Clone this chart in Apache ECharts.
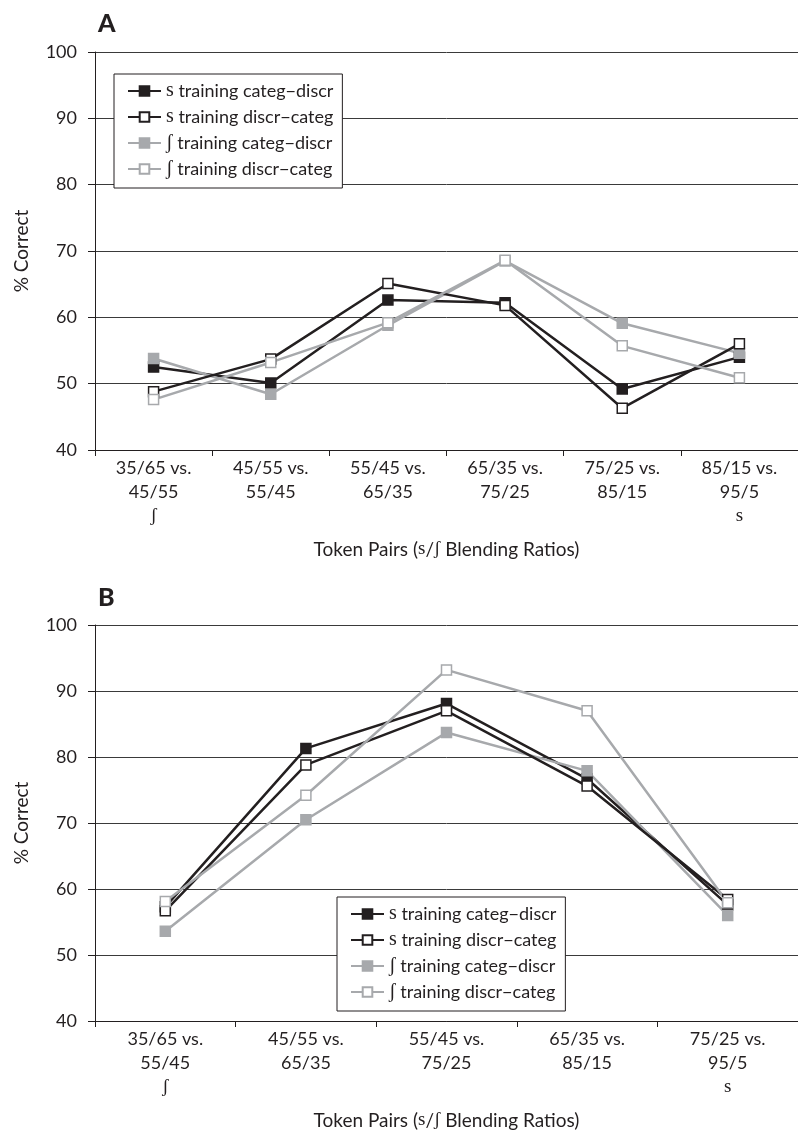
<!DOCTYPE html>
<html>
<head>
<meta charset="utf-8">
<script src="https://cdn.jsdelivr.net/npm/echarts@6/dist/echarts.min.js"></script>
<style>html,body{margin:0;padding:0;background:#fff}#c{width:798px;height:1139px}</style>
</head>
<body>
<div id="c"></div>
<script>
// ---- data ----
var seriesNames = ['s training categ\u2212discr', 's training discr\u2212categ', '\u0283 training categ\u2212discr', '\u0283 training discr\u2212categ'];
var categoriesA = ['35/65 vs.\n45/55', '45/55 vs.\n55/45', '55/45 vs.\n65/35', '65/35 vs.\n75/25', '75/25 vs.\n85/15', '85/15 vs.\n95/5'];
var endMarksA = ['\u0283', '', '', '', '', 's'];
var categoriesB = ['35/65 vs.\n55/45', '45/55 vs.\n65/35', '55/45 vs.\n75/25', '65/35 vs.\n85/15', '75/25 vs.\n95/5'];
var endMarksB = ['\u0283', '', '', '', 's'];
var aSCatDis = [52.5, 50.1, 62.6, 62.2, 49.2, 54.0];
var aSDisCat = [48.8, 53.7, 65.1, 61.8, 46.3, 56.0];
var aEshCatDis = [53.8, 48.4, 58.8, 68.5, 59.1, 54.6];
var aEshDisCat = [47.6, 53.2, 59.2, 68.6, 55.7, 50.9];
var bSCatDis = [57.3, 81.3, 88.1, 76.7, 57.6];
var bSDisCat = [56.7, 78.8, 87.0, 75.6, 58.4];
var bEshCatDis = [53.6, 70.5, 83.7, 77.9, 56.0];
var bEshDisCat = [58.1, 74.2, 93.2, 87.0, 57.9];
var yTicks = {min: 40, max: 100, interval: 10};

// ---- styles ----
var BLACK = '#231f20', GRAY = '#a7a9ac';
var SANS = 'Lato', SERIF = 'Liberation Serif';
var chart = echarts.init(document.getElementById('c'), null, {renderer: 'canvas'});

function catFormatter(marks) {
  return function (val, idx) {
    var s = val.split('\n').map(function (l) { return '{a|' + l + '}'; }).join('\n');
    if (marks[idx]) s += '\n{b|' + marks[idx] + '}';
    return s;
  };
}
var catRich = {
  a: {fontFamily: SANS, fontSize: 18, color: BLACK, lineHeight: 24},
  b: {fontFamily: SERIF, fontSize: 19, color: BLACK, lineHeight: 24}
};
function xAxis(gi, cats, marks) {
  return {
    type: 'category', gridIndex: gi, data: cats, boundaryGap: true,
    axisLine: {lineStyle: {color: BLACK, width: 1}},
    axisTick: {show: true, length: 6, lineStyle: {color: BLACK}},
    axisLabel: {formatter: catFormatter(marks), rich: catRich, margin: 6, interval: 0},
    name: '{a|Token Pairs (}{b|s}{a|/}{b|\u0283}{a| Blending Ratios)}',
    nameLocation: 'middle', nameGap: 90,
    nameTextStyle: {rich: {a: {fontFamily: SANS, fontSize: 19, color: BLACK}, b: {fontFamily: SERIF, fontSize: 19, color: BLACK}}},
    splitLine: {show: false}
  };
}
function yAxis(gi) {
  return {
    type: 'value', gridIndex: gi, min: yTicks.min, max: yTicks.max, interval: yTicks.interval,
    axisLine: {show: true, lineStyle: {color: BLACK, width: 1}},
    axisTick: {show: true, length: 7, lineStyle: {color: BLACK}},
    axisLabel: {fontFamily: SANS, fontSize: 18, color: BLACK, margin: 18},
    splitLine: {show: true, lineStyle: {color: '#3a3a3a', width: 1}},
    name: '% Correct', nameLocation: 'middle', nameRotate: 90, nameGap: 64,
    nameTextStyle: {fontFamily: SANS, fontSize: 19, color: BLACK}
  };
}
function mk(name, data, gi, color, filled) {
  return {
    name: name, type: 'line', xAxisIndex: gi, yAxisIndex: gi, data: data,
    symbol: 'rect', symbolSize: 10, showSymbol: true,
    lineStyle: {color: color, width: 2.5},
    itemStyle: {color: filled ? color : '#ffffff', borderColor: color, borderWidth: 1.5},
    emphasis: {disabled: true}, animation: false, z: filled ? 2 : 3
  };
}
var legendRich = {
  s: {fontFamily: SERIF, fontSize: 20, color: BLACK, lineHeight: 20},
  t: {fontFamily: SANS, fontSize: 18, color: BLACK, lineHeight: 20}
};
function legendFmt(name) { return '{s|' + name.charAt(0) + '}{t|' + name.slice(1) + '}'; }
function legend(left, top) {
  return {
    orient: 'vertical', left: left, top: top, data: seriesNames,
    backgroundColor: '#fff', borderColor: BLACK, borderWidth: 1,
    padding: [7, 9, 9, 13], itemWidth: 33, itemHeight: 12, itemGap: 6,
    formatter: legendFmt, textStyle: {rich: legendRich}, selectedMode: false
  };
}
var option = {
  animation: false,
  backgroundColor: '#fff',
  title: [
    {text: 'A', left: 93, top: 6, textStyle: {fontFamily: SANS, fontWeight: 900, fontSize: 25, color: BLACK}},
    {text: 'B', left: 93, top: 580, textStyle: {fontFamily: SANS, fontWeight: 900, fontSize: 25, color: BLACK}}
  ],
  grid: [
    {left: 95, right: -11, top: 52, height: 398},
    {left: 95, right: -11, top: 625, height: 396}
  ],
  xAxis: [xAxis(0, categoriesA, endMarksA), xAxis(1, categoriesB, endMarksB)],
  yAxis: [yAxis(0), yAxis(1)],
  legend: [legend(114, 74), legend(337, 897)],
  series: [
    mk(seriesNames[0], aSCatDis, 0, BLACK, true),
    mk(seriesNames[1], aSDisCat, 0, BLACK, false),
    mk(seriesNames[2], aEshCatDis, 0, GRAY, true),
    mk(seriesNames[3], aEshDisCat, 0, GRAY, false),
    mk(seriesNames[0], bSCatDis, 1, BLACK, true),
    mk(seriesNames[1], bSDisCat, 1, BLACK, false),
    mk(seriesNames[2], bEshCatDis, 1, GRAY, true),
    mk(seriesNames[3], bEshDisCat, 1, GRAY, false)
  ]
};
chart.setOption(option);
</script>
</body>
</html>
